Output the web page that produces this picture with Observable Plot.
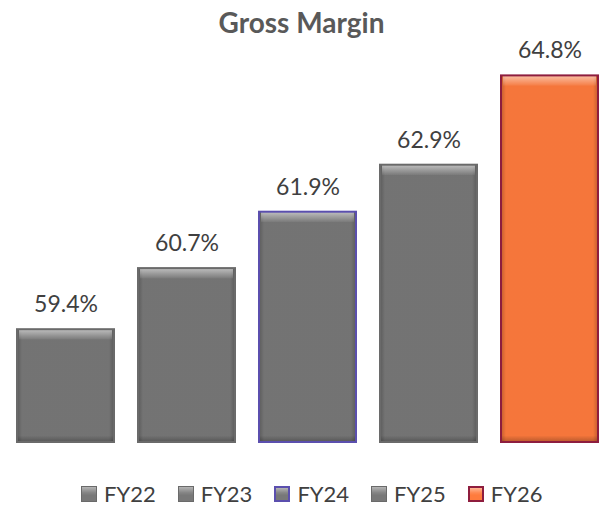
<!DOCTYPE html>
<html>
<head>
<meta charset="utf-8">
<script src="https://cdn.jsdelivr.net/npm/d3@7"></script>
<script src="https://cdn.jsdelivr.net/npm/@observablehq/plot@0.6"></script>
<style>
  html, body { margin: 0; padding: 0; background: #fff; }
  body { width: 603px; height: 507px; overflow: hidden; font-family: Lato, "Noto Sans", sans-serif; }
  #title { height: 34px; box-sizing: border-box; padding-top: 7px; line-height: 30px; font-size: 28px; font-weight: bold; color: #595959; text-align: center; white-space: nowrap; }
  #legend { height: 33px; box-sizing: border-box; padding-top: 8px; padding-left: 81px; display: flex; font-size: 22px; color: #404040; line-height: 24px; white-space: nowrap; }
  .item { display: flex; align-items: center; width: 96.7px; height: 24px; flex: none; }
  .sw { width: 16px; height: 16px; box-sizing: border-box; border: 1px solid #666; margin-right: 7px; flex: none; }
  .lbl { display: inline-block; line-height: 24px; height: 24px; }
</style>
</head>
<body>
<div id="title">Gross Margin</div>
<div id="chart"></div>
<div id="legend"></div>
<script>
const categories = ["FY22", "FY23", "FY24", "FY25", "FY26"];
const values = [59.4, 60.7, 61.9, 62.9, 64.8];
const fills = ["#787878", "#787878", "#787878", "#787878", "#ff7b3d"];
const strokes = ["#6a6a6a", "#6a6a6a", "#5b4fae", "#6a6a6a", "#8e1d3e"];
const yMin = 57;
const yMax = 65.5;

const data = categories.map((c, i) => ({cat: c, value: values[i], fill: fills[i], stroke: strokes[i]}));

const plot = Plot.plot({
  width: 603,
  height: 440,
  marginTop: 8.5,
  marginBottom: 32,
  marginLeft: 15,
  marginRight: 2,
  x: {domain: categories, paddingInner: 0.18, paddingOuter: 0, axis: null},
  y: {domain: [yMin, yMax], axis: null},
  marks: [
    Plot.barY(data, {x: "cat", y1: yMin, y2: "value", fill: d => d.fill}),
    Plot.barY(data, {x: "cat", y1: yMin, y2: "value", fill: "url(#sideShade)"}),
    Plot.barY(data, {x: "cat", y1: d => d.value - 0.22, y2: "value", fill: "url(#topHi)", insetLeft: 3, insetRight: 3}),
    Plot.barY(data, {x: "cat", y1: yMin, y2: yMin + 0.14, fill: "url(#botSh)"}),
    Plot.barY(data, {x: "cat", y1: yMin, y2: "value", fill: "none", stroke: d => d.stroke, strokeWidth: 2, insetLeft: 1, insetRight: 1}),
    Plot.text(data, {x: "cat", y: "value", text: d => d.value.toFixed(1) + "%", dy: -25, fontSize: 23, fill: "#404040", fontFamily: "Lato, 'Noto Sans', sans-serif"})
  ]
});

d3.select(plot).insert("defs", ":first-child").html(`
  <linearGradient id="sideShade" x1="0" x2="1" y1="0" y2="0">
    <stop offset="0" stop-color="#000" stop-opacity="0.28"/>
    <stop offset="0.06" stop-color="#000" stop-opacity="0.04"/>
    <stop offset="0.94" stop-color="#000" stop-opacity="0.04"/>
    <stop offset="1" stop-color="#000" stop-opacity="0.28"/>
  </linearGradient>
  <linearGradient id="topHi" x1="0" x2="0" y1="0" y2="1">
    <stop offset="0" stop-color="#fff" stop-opacity="0.55"/>
    <stop offset="0.5" stop-color="#fff" stop-opacity="0.3"/>
    <stop offset="1" stop-color="#fff" stop-opacity="0.05"/>
  </linearGradient>
  <linearGradient id="botSh" x1="0" x2="0" y1="0" y2="1">
    <stop offset="0" stop-color="#000" stop-opacity="0.0"/>
    <stop offset="1" stop-color="#000" stop-opacity="0.25"/>
  </linearGradient>
`);

document.getElementById("chart").appendChild(plot);

const legend = d3.select("#legend");
data.forEach(d => {
  const item = legend.append("div").attr("class", "item");
  item.append("div").attr("class", "sw")
    .style("background", `linear-gradient(to bottom, rgba(255,255,255,0.45) 0%, rgba(255,255,255,0.1) 40%, rgba(0,0,0,0) 60%), ${d.fill}`)
    .style("border-color", d.stroke)
    .style("border-width", d.cat === "FY24" || d.cat === "FY26" ? "2px" : "1px");
  item.append("span").attr("class", "lbl").text(d.cat);
});
</script>
</body>
</html>
